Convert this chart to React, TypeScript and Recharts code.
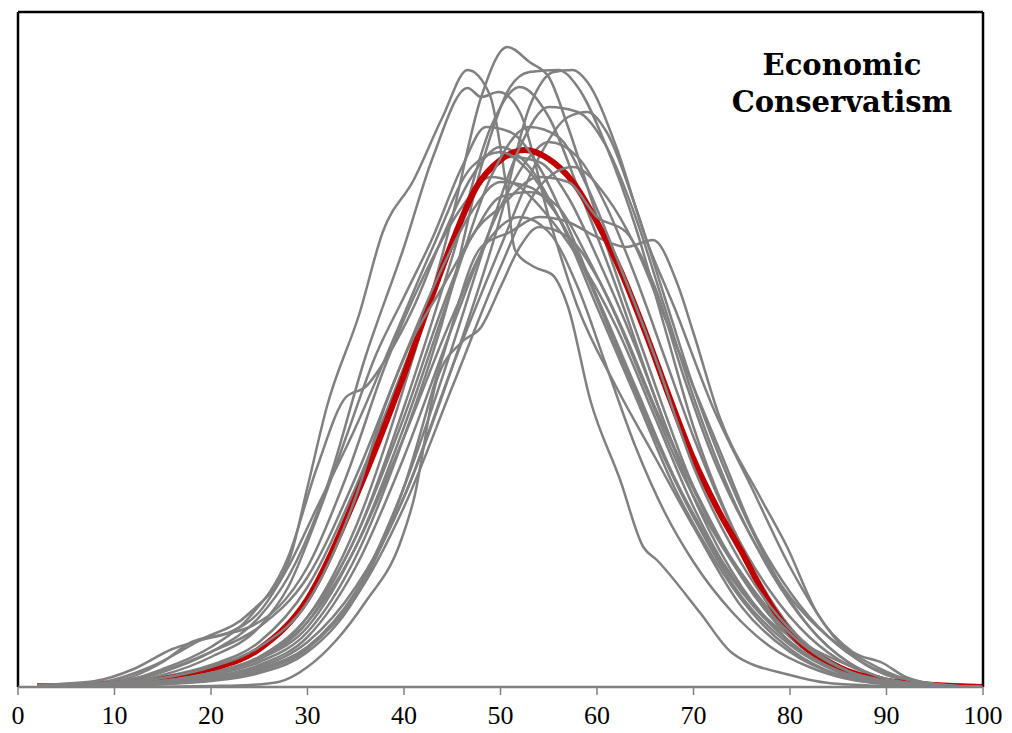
import { LineChart, Line, XAxis, YAxis, ReferenceLine } from 'recharts';

// density curves, [score, density] (density in arbitrary units, 0..675 = plot height)
const meanCurve = [[2, 1], [5, 1], [10, 3], [15, 8], [20, 18], [25, 38], [30, 88], [35, 190], [40, 312], [42.5, 380], [45, 445], [47.5, 500], [50, 527], [52.5, 537], [55, 528], [57.5, 505], [60, 465], [62.5, 415], [65, 355], [67.5, 290], [70, 228], [72.5, 178], [75, 135], [77.5, 90], [80, 55], [85, 20], [90, 6], [95, 2], [100, 0]];

const c01 = [[2, 2], [10, 3], [15, 8], [20, 15], [25, 30], [30, 70], [35, 160], [40, 300], [45, 470], [48, 590], [50.7, 640], [53, 625], [55, 610], [57, 560], [60, 470], [65, 330], [70, 200], [75, 110], [80, 50], [85, 18], [90, 5], [95, 1], [100, 0]];
const c02 = [[2, 2], [8, 4], [13.7, 20], [18.9, 47], [24, 74], [28.2, 130], [30, 200], [32, 280], [35.4, 374], [37.8, 455], [41, 507], [44, 570], [46.6, 617], [48.9, 592], [50.5, 507], [51.5, 437], [53.5, 420], [55.4, 412], [57, 380], [59.3, 287], [62.4, 207], [64.8, 140], [66.2, 127], [70.7, 74], [74, 34], [80, 12], [84, 4], [90, 1], [95, 0], [100, 0]];
const c03 = [[2, 2], [10, 4], [15, 15], [20, 35], [25, 70], [28, 110], [32, 200], [36, 330], [40, 440], [43, 530], [46.6, 599], [48, 590], [49.8, 595], [52, 575], [55, 470], [58, 380], [62, 300], [66, 230], [70, 160], [75, 80], [80, 35], [85, 12], [90, 4], [95, 1], [100, 0]];
const c04 = [[2, 1], [10, 2], [15, 5], [20, 12], [25, 25], [30, 55], [35, 130], [40, 250], [45, 400], [48, 520], [51, 600], [53, 615], [56, 617], [58, 600], [61, 540], [64, 460], [67, 360], [70, 260], [75, 140], [80, 60], [85, 22], [90, 6], [95, 1], [100, 0]];
const c05 = [[2, 1], [10, 2], [15, 4], [20, 10], [25, 20], [30, 45], [35, 100], [40, 190], [45, 320], [50, 470], [53, 580], [55.5, 615], [57.5, 617], [59, 605], [62, 540], [65, 450], [68, 380], [72, 280], [76, 200], [80, 120], [85, 45], [90, 12], [95, 3], [100, 0]];
const c06 = [[2, 0], [10, 1], [15, 3], [20, 6], [25, 14], [30, 35], [35, 90], [40, 200], [44, 330], [48, 440], [51, 455], [54, 470], [57, 465], [60, 450], [63, 440], [65.8, 447], [68.3, 404], [70, 354], [72.7, 270], [76.9, 190], [79.7, 140], [82.8, 74], [86.5, 35], [89.6, 24], [92, 10], [95, 3], [100, 0]];
const c07 = [[2, 0], [10, 0], [20, 1], [24, 2], [27, 5], [30, 20], [33, 47], [36, 85], [39.6, 144], [41, 187], [43.4, 307], [46, 345], [48, 360], [50, 400], [52, 440], [54, 460], [57, 450], [60, 410], [63, 350], [66, 280], [70, 200], [75, 110], [80, 50], [85, 18], [90, 5], [95, 1], [100, 0]];
const c08 = [[2, 1], [10, 2], [15, 4], [20, 8], [25, 18], [30, 40], [35, 95], [40, 190], [45, 320], [50, 440], [54, 530], [57, 570], [59, 575], [61, 555], [64, 480], [67, 390], [70, 300], [74, 200], [78, 120], [82, 60], [86, 25], [90, 8], [95, 2], [100, 0]];
const c09 = [[2, 1], [10, 2], [15, 6], [20, 14], [25, 30], [30, 70], [35, 150], [40, 280], [45, 430], [49, 560], [52, 600], [55, 570], [58, 500], [62, 400], [66, 290], [70, 190], [75, 100], [80, 45], [85, 15], [90, 4], [95, 1], [100, 0]];
const c10 = [[2, 2], [10, 5], [15, 18], [20, 40], [24, 70], [28, 130], [31, 220], [34, 290], [36, 300], [38.5, 334], [41, 380], [44, 450], [47, 510], [50, 540], [53, 520], [56, 470], [60, 380], [64, 290], [68, 200], [72, 130], [76, 75], [80, 38], [85, 12], [90, 3], [95, 1], [100, 0]];
const c11 = [[2, 1], [10, 3], [15, 10], [20, 22], [25, 45], [30, 100], [35, 200], [40, 320], [45, 440], [48, 505], [51, 530], [54, 525], [57, 490], [60, 430], [64, 340], [68, 240], [72, 160], [76, 100], [80, 55], [85, 20], [90, 6], [95, 1], [100, 0]];
const c12 = [[2, 0], [10, 1], [15, 4], [20, 10], [25, 22], [30, 50], [35, 120], [40, 230], [45, 360], [50, 480], [53, 530], [55, 545], [58, 530], [61, 480], [64, 410], [67, 330], [70, 250], [74, 160], [78, 95], [82, 50], [86, 22], [90, 8], [95, 2], [100, 0]];
const c13 = [[2, 2], [10, 6], [15, 25], [18, 45], [21, 52], [24, 60], [27, 80], [30, 120], [34, 210], [38, 320], [42, 410], [46, 480], [49, 510], [52, 500], [55, 470], [58, 430], [62, 360], [66, 270], [70, 180], [74, 110], [78, 65], [82, 40], [86, 22], [90, 8], [95, 2], [100, 0]];
const c14 = [[2, 1], [10, 2], [15, 6], [20, 14], [25, 28], [30, 60], [35, 140], [40, 260], [45, 400], [49, 510], [53, 560], [56, 550], [59, 500], [62, 430], [66, 330], [70, 220], [74, 140], [78, 80], [82, 40], [86, 16], [90, 5], [95, 1], [100, 0]];
const c15 = [[2, 1], [10, 2], [15, 6], [20, 14], [25, 28], [30, 65], [35, 150], [40, 270], [44, 380], [47, 450], [50, 480], [54, 510], [57, 505], [60, 470], [63, 455], [66, 400], [69, 310], [72, 230], [76, 150], [80, 90], [84, 50], [88, 25], [92, 8], [96, 2], [100, 0]];
const c16 = [[2, 2], [10, 5], [15, 16], [20, 35], [25, 60], [30, 110], [35, 210], [40, 330], [44, 420], [47, 475], [50, 505], [53, 500], [56, 470], [59, 410], [62, 340], [66, 250], [70, 170], [75, 90], [80, 42], [85, 15], [90, 4], [95, 1], [100, 0]];
const c17 = [[2, 0], [10, 1], [15, 3], [20, 8], [25, 18], [30, 40], [35, 90], [40, 180], [45, 300], [50, 420], [54, 500], [57.5, 520], [61, 490], [64, 440], [67, 370], [70, 300], [73, 230], [76, 160], [80, 95], [84, 50], [88, 22], [92, 8], [96, 2], [100, 0]];
const c18 = [[2, 2], [10, 4], [15, 12], [20, 30], [25, 60], [28, 100], [31, 170], [34, 250], [37, 330], [40, 390], [43, 450], [46, 520], [48.5, 560], [51, 555], [54, 520], [57, 460], [60, 390], [63, 320], [66, 250], [70, 170], [75, 95], [80, 45], [85, 16], [90, 5], [95, 1], [100, 0]];
const c19 = [[2, 0], [10, 1], [15, 3], [20, 7], [25, 16], [30, 38], [35, 95], [40, 200], [45, 340], [49, 460], [52, 540], [55, 580], [58, 575], [61, 540], [64, 470], [67, 380], [70, 290], [74, 190], [78, 115], [82, 60], [86, 25], [90, 8], [95, 2], [100, 0]];
const c20 = [[2, 1], [10, 3], [15, 9], [20, 20], [25, 40], [30, 85], [35, 190], [38, 280], [41, 350], [44, 400], [47, 450], [50, 490], [53, 495], [56, 480], [59, 430], [62, 370], [65, 300], [69, 210], [73, 140], [77, 85], [81, 45], [85, 20], [90, 6], [95, 1], [100, 0]];
const c21 = [[2, 1], [10, 2], [15, 6], [20, 14], [25, 30], [30, 65], [35, 140], [40, 250], [45, 370], [49, 450], [52, 470], [55, 455], [58, 400], [61, 320], [64, 240], [67, 175], [70, 125], [74, 75], [78, 40], [82, 20], [86, 8], [90, 3], [95, 1], [100, 0]];
const c22 = [[2, 2], [8, 6], [12, 18], [16, 38], [19, 47], [22, 55], [25, 75], [28, 120], [31, 180], [35, 260], [39, 350], [43, 440], [47, 520], [50, 535], [53, 515], [56, 470], [60, 390], [64, 300], [68, 210], [72, 140], [76, 85], [80, 45], [85, 16], [90, 5], [95, 1], [100, 0]];

// drawn below the mean curve / above it
const curvesBelow = [c01, c02, c03, c04, c05, c06, c07, c08, c09, c10, c11, c12, c13];
const curvesAbove = [c14, c15, c16, c17, c18, c19, c20, c21, c22];
const xTicks = [0, 10, 20, 30, 40, 50, 60, 70, 80, 90, 100];
const titleLines = ['Economic', 'Conservatism'];

const toPts = (arr: number[][]) => arr.map(([x, y]) => ({ x, y }));

const GRAY = '#808080';
const RED = '#c00000';

const grayLine = (c: number[][], key: string) => (
  <Line key={key} data={toPts(c)} dataKey="y" type="monotone" stroke={GRAY} strokeWidth={2.5} dot={false} isAnimationActive={false} />
);

export default function App() {
  return (
    <div style={{ position: 'absolute', left: 0, top: 0, width: 1012, height: 733, background: '#fff' }}>
      <LineChart width={1012} height={733} margin={{ top: 12, right: 29, left: 18, bottom: 6 }}>
        <XAxis
          type="number"
          dataKey="x"
          domain={[0, 100]}
          ticks={xTicks}
          height={40}
          axisLine={{ stroke: GRAY, strokeWidth: 2.5 }}
          tickLine={{ stroke: GRAY, strokeWidth: 1.5 }}
          tickSize={8}
          tickMargin={11}
          tick={{ fill: '#000', fontSize: 26, fontFamily: 'Liberation Serif' }}
          allowDataOverflow
        />
        <YAxis hide type="number" domain={[0, 675]} allowDataOverflow />
        {curvesBelow.map((c, i) => grayLine(c, 'b' + i))}
        <Line data={toPts(meanCurve)} dataKey="y" type="monotone" stroke={RED} strokeWidth={6} dot={false} isAnimationActive={false} />
        {curvesAbove.map((c, i) => grayLine(c, 'a' + i))}
        <ReferenceLine x={0} stroke="#000" strokeWidth={2.5} />
        <ReferenceLine x={100} stroke="#000" strokeWidth={2.5} />
        <ReferenceLine y={675} stroke="#000" strokeWidth={2.5} />
      </LineChart>
      <svg width={1012} height={733} style={{ position: 'absolute', left: 0, top: 0, pointerEvents: 'none' }}>
        <text x={842} y={75} textAnchor="middle" fontFamily="DejaVu Serif" fontWeight="bold" fontSize={29} fill="#000">
          {titleLines[0]}
        </text>
        <text x={842} y={112} textAnchor="middle" fontFamily="DejaVu Serif" fontWeight="bold" fontSize={29} fill="#000">
          {titleLines[1]}
        </text>
      </svg>
    </div>
  );
}
